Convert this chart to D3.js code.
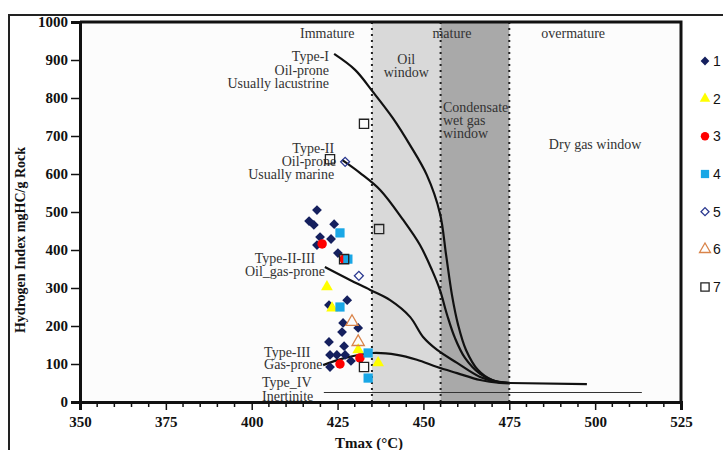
<!DOCTYPE html>
<html>
<head>
<meta charset="utf-8">
<script src="https://cdn.jsdelivr.net/npm/d3@7"></script>
<style>
  body { margin: 0; background: #fff; }
  svg { display: block; }
</style>
</head>
<body>
<svg id="chart" width="723" height="450"></svg>
<script>
// ---- data (Tmax °C, HI mgHC/g rock) ----
const xTicks = [350, 375, 400, 425, 450, 475, 500, 525];
const yTicks = [0, 100, 200, 300, 400, 500, 600, 700, 800, 900, 1000];
const legendLabels = ["1", "2", "3", "4", "5", "6", "7"];

// maturity zone limits
const zoneBreaks = [435, 455, 475];

// kerogen type evolution curves
const typeI = [[424.0, 916], [430.1, 874], [435.3, 816], [441.1, 747], [446.1, 676], [451.0, 597],
  [454.8, 497], [456.6, 387], [458.3, 282], [460.1, 203], [462.4, 137], [465.9, 84], [470.0, 58], [475.2, 50]];
const typeII = [[426.3, 637], [431.5, 603], [437.4, 558], [444.1, 479], [449.0, 413], [452.5, 347],
  [454.8, 295], [456.9, 229], [459.2, 168], [462.1, 116], [466.5, 74], [470.8, 55], [475.2, 50]];
const typeIIIII = [[421.3, 355], [428.6, 321], [434.5, 295], [440.3, 268], [446.1, 224], [449.9, 171],
  [454.0, 137], [459.8, 103], [466.5, 66], [471.4, 53], [475.2, 50]];
const typeIII = [[420.8, 97], [427.2, 116], [435.3, 129], [442.3, 124], [448.1, 111], [454.0, 92],
  [459.8, 76], [466.5, 58], [472.3, 50], [475.2, 49]];
const tail = [[475.2, 50], [497.6, 47]];
const typeIV = [[421.0, 25], [513.6, 25]];

// samples, one array per legend group
const s1 = [[419.0, 505], [416.7, 476], [418.1, 466], [424.0, 468], [419.9, 434], [423.1, 429],
  [419.0, 413], [425.1, 392], [427.8, 268], [422.5, 255], [426.6, 208], [431.0, 195], [426.3, 184],
  [422.5, 158], [426.9, 147], [422.8, 124], [424.8, 124], [427.2, 124], [428.9, 108], [422.8, 92]];
const s2 = [[421.9, 303], [423.4, 247], [431.0, 137], [436.8, 103]];
const s3 = [[420.5, 416], [426.9, 376], [425.7, 100], [431.5, 116]];
const s4 = [[425.7, 445], [428.0, 376], [425.7, 250], [433.9, 129], [433.9, 63]];
const s5 = [[427.2, 632], [431.2, 332]];
const s6 = [[429.2, 211], [431.0, 158]];
const s7 = [[432.7, 732], [422.8, 639], [437.1, 455], [426.9, 376], [432.7, 92]];

const svg = d3.select("#chart");
const serif = "'Liberation Serif', 'Times New Roman', serif";

const x = d3.scaleLinear().domain([350, 525]).range([80, 681]);
const y = d3.scaleLinear().domain([0, 1000]).range([402, 22]);

// outer figure frame
svg.append("path")
    .attr("d", "M9,450 L9,15 L723,15")
    .attr("fill", "none")
    .attr("stroke", "#222")
    .attr("stroke-width", 2);

// plot background + maturity shading
svg.append("rect")
    .attr("x", x(350)).attr("y", y(1000))
    .attr("width", x(525) - x(350)).attr("height", y(0) - y(1000))
    .attr("fill", "#fcfcfc");
svg.append("rect")
    .attr("x", x(zoneBreaks[0])).attr("y", y(1000))
    .attr("width", x(zoneBreaks[1]) - x(zoneBreaks[0])).attr("height", y(0) - y(1000))
    .attr("fill", "#d9d9d9");
svg.append("rect")
    .attr("x", x(zoneBreaks[1])).attr("y", y(1000))
    .attr("width", x(zoneBreaks[2]) - x(zoneBreaks[1])).attr("height", y(0) - y(1000))
    .attr("fill", "#a9a9a9");

svg.selectAll("line.zone")
    .data(zoneBreaks)
    .join("line")
    .classed("zone", true)
    .attr("x1", d => x(d)).attr("x2", d => x(d))
    .attr("y1", y(1000)).attr("y2", y(0))
    .attr("stroke", "#222")
    .attr("stroke-width", 2)
    .attr("stroke-dasharray", "2,4");

// annotations
function label(txt, T, hi, anchor, opts = {}) {
    svg.append("text")
        .attr("x", x(T)).attr("y", y(hi))
        .attr("text-anchor", anchor)
        .attr("font-family", serif)
        .attr("font-size", opts.size || 14)
        .attr("fill", opts.fill || "#333")
        .text(txt);
}
label("Immature", 422, 958, "middle");
label("mature", 458.3, 958, "middle");
label("overmature", 493.6, 958, "middle");
label("Oil", 445, 889, "middle");
label("window", 445, 855, "middle");
label("Condensate", 455.7, 763, "start");
label("wet gas", 455.7, 729, "start");
label("window", 455.7, 695, "start");
label("Dry gas window", 500, 666, "middle");
label("Type-I", 422.5, 897, "end");
label("Oil-prone", 422.5, 861, "end");
label("Usually lacustrine", 422.5, 826, "end");
label("Type-II", 424, 655, "end");
label("Oil-prone", 424.6, 621, "end");
label("Usually marine", 424, 587, "end");
label("Type-II-III", 409.7, 366, "middle");
label("Oil_gas-prone", 409.7, 332, "middle");
label("Type-III", 403.6, 118, "start");
label("Gas-prone", 403.6, 87, "start");
label("Type_IV", 403, 39, "start");
label("Inertinite", 403, 3, "start");

// curves
const line = d3.line()
    .x(d => x(d[0]))
    .y(d => y(d[1]))
    .curve(d3.curveCatmullRom.alpha(0.5));

[typeI, typeII, typeIIIII, typeIII, tail].forEach(c => {
    svg.append("path")
        .datum(c)
        .attr("d", line)
        .attr("fill", "none")
        .attr("stroke", "#111")
        .attr("stroke-width", 2.2);
});
svg.append("path")
    .datum(typeIV)
    .attr("d", d3.line().x(d => x(d[0])).y(d => y(d[1])))
    .attr("fill", "none")
    .attr("stroke", "#333")
    .attr("stroke-width", 1.2);

// marker styles
const styles = [
    { type: d3.symbolSquare, size: 48, rot: 45, fill: "#15205e", stroke: "none" },
    { type: d3.symbolTriangle, size: 60, rot: 0, fill: "#ffff00", stroke: "none" },
    { type: d3.symbolCircle, size: 70, rot: 0, fill: "#ff0000", stroke: "none" },
    { type: d3.symbolSquare, size: 85, rot: 0, fill: "#19a7e6", stroke: "none" },
    { type: d3.symbolSquare, size: 40, rot: 45, fill: "none", stroke: "#2b3990" },
    { type: d3.symbolTriangle, size: 65, rot: 0, fill: "none", stroke: "#d9844a" },
    { type: d3.symbolSquare, size: 85, rot: 0, fill: "none", stroke: "#222" }
];
const series = [s1, s2, s3, s4, s5, s6, s7];

series.forEach((pts, i) => {
    const st = styles[i];
    svg.append("g")
        .selectAll("path")
        .data(pts)
        .join("path")
        .attr("transform", d => `translate(${x(d[0])},${y(d[1])}) rotate(${st.rot})`)
        .attr("d", d3.symbol().type(st.type).size(st.size))
        .attr("fill", st.fill)
        .attr("stroke", st.stroke)
        .attr("stroke-width", 1.3);
});

// axes
const xAxis = d3.axisBottom(x).tickValues(xTicks).tickSize(8).tickPadding(6).tickFormat(d3.format("d"));
const gx = svg.append("g").attr("transform", `translate(0,${y(0)})`).call(xAxis);
gx.selectAll("line.minor")
    .data(d3.range(355, 525, 5).filter(v => v % 25 !== 0))
    .join("line")
    .attr("x1", d => x(d)).attr("x2", d => x(d))
    .attr("y1", 0).attr("y2", 5)
    .attr("stroke", "#111").attr("stroke-width", 1.5);

const yAxis = d3.axisLeft(y).tickValues(yTicks).tickSize(9).tickPadding(3).tickFormat(d3.format("d"));
const gy = svg.append("g").attr("transform", `translate(${x(350)},0)`).call(yAxis);

[gx, gy].forEach(g => {
    g.select(".domain").attr("stroke", "#111").attr("stroke-width", 3);
    g.selectAll(".tick line").attr("stroke", "#111").attr("stroke-width", 1.5);
    g.selectAll("text")
        .attr("font-family", serif)
        .attr("font-weight", "bold")
        .attr("font-size", 15)
        .attr("fill", "#111");
});

// top and right frame
svg.append("path")
    .attr("d", `M${x(350)},${y(1000)} L${x(525)},${y(1000)} L${x(525)},${y(0)}`)
    .attr("fill", "none")
    .attr("stroke", "#111")
    .attr("stroke-width", 3);

// axis titles
svg.append("text")
    .attr("x", 369).attr("y", 448)
    .attr("text-anchor", "middle")
    .attr("font-family", serif).attr("font-weight", "bold").attr("font-size", 15)
    .attr("fill", "#111")
    .text("Tmax (°C)");
svg.append("text")
    .attr("transform", "translate(25,240) rotate(-90)")
    .attr("text-anchor", "middle")
    .attr("font-family", serif).attr("font-weight", "bold").attr("font-size", 14)
    .attr("fill", "#111")
    .text("Hydrogen Index mgHC/g Rock");

// legend
const legendY = d3.scalePoint().domain(legendLabels).range([61, 287]);
const lg = svg.append("g")
    .selectAll("g")
    .data(legendLabels)
    .join("g")
    .attr("transform", d => `translate(705,${legendY(d)})`);
lg.append("path")
    .attr("transform", (d, i) => `rotate(${styles[i].rot})`)
    .attr("d", (d, i) => d3.symbol().type(styles[i].type).size(styles[i].size * 0.8)())
    .attr("fill", (d, i) => styles[i].fill)
    .attr("stroke", (d, i) => styles[i].stroke)
    .attr("stroke-width", 1.3);
lg.append("text")
    .attr("x", 8).attr("y", 5)
    .attr("font-family", "'Liberation Sans', Arial, sans-serif")
    .attr("font-size", 14)
    .attr("fill", "#111")
    .text(d => d);
</script>
</body>
</html>
